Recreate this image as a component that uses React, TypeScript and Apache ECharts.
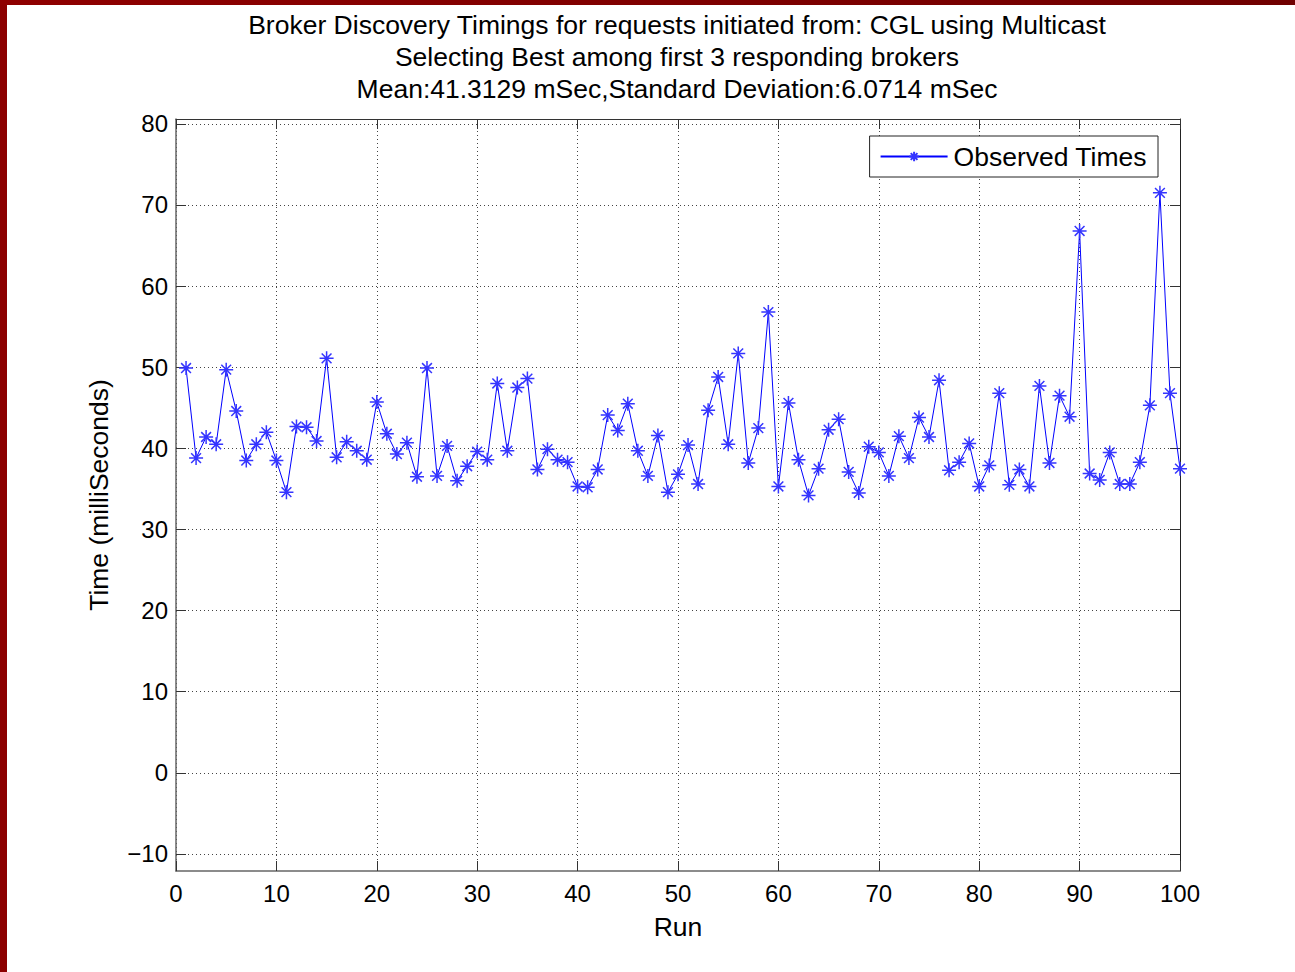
import React, { useEffect, useRef } from "react";
import * as echarts from "echarts";

const titleLines = [
  "Broker Discovery Timings for requests initiated from: CGL using Multicast",
  "Selecting Best among first 3 responding brokers",
  "Mean:41.3129 mSec,Standard Deviation:6.0714 mSec",
];
const seriesName = "Observed Times";
const xAxisName = "Run";
const yAxisName = "Time (milliSeconds)";
const yTicks = [-10, 0, 10, 20, 30, 40, 50, 60, 70, 80];
const observedTimes = [
  49.9, 38.8, 41.4, 40.5, 49.7, 44.6, 38.5, 40.5, 42.0, 38.5,
  34.6, 42.7, 42.6, 40.9, 51.1, 38.9, 40.8, 39.7, 38.6, 45.7,
  41.8, 39.3, 40.7, 36.5, 49.9, 36.6, 40.3, 36.0, 37.8, 39.6,
  38.6, 48.0, 39.7, 47.5, 48.6, 37.4, 39.9, 38.6, 38.3, 35.3,
  35.2, 37.4, 44.1, 42.2, 45.5, 39.7, 36.6, 41.6, 34.6, 36.8,
  40.4, 35.6, 44.7, 48.8, 40.5, 51.7, 38.2, 42.5, 56.8, 35.3,
  45.6, 38.6, 34.2, 37.5, 42.3, 43.6, 37.1, 34.5, 40.2, 39.5,
  36.6, 41.5, 38.8, 43.8, 41.4, 48.4, 37.3, 38.3, 40.6, 35.3,
  37.9, 46.8, 35.5, 37.4, 35.3, 47.7, 38.2, 46.5, 43.9, 66.8,
  36.9, 36.1, 39.5, 35.6, 35.6, 38.3, 45.3, 71.5, 46.8, 37.5,
];

const FONT = "'Liberation Sans', Arial, Helvetica, sans-serif";
const BIG = 26.5;
const STAR = "path://M0,-10L0,10M-10,0L10,0M-7,-7L7,7M-7,7L7,-7";

export default function App() {
  const ref = useRef<HTMLDivElement>(null);
  useEffect(() => {
    if (!ref.current) return;
    const chart = echarts.init(ref.current, null, { renderer: "svg" });
    const data = observedTimes.map((v, i) => [i + 1, v]);
    const gridLine = { show: true, lineStyle: { color: "#444", type: [1, 3] as any, width: 1 } };
    const tickStyle = { show: true, inside: true, length: 10, lineStyle: { color: "#333", width: 1 } };
    chart.setOption({
      animation: false,
      backgroundColor: "#ffffff",
      textStyle: { fontFamily: FONT },
      graphic: [
        { type: "rect", left: 0, top: 0, shape: { width: 7, height: 972 }, style: { fill: "#8c0000" }, z: 100 },
        {
          type: "rect", left: 0, top: 0, shape: { width: 1295, height: 5 },
          style: {
            fill: new echarts.graphic.LinearGradient(0, 0, 1, 0, [
              { offset: 0, color: "#8f0000" },
              { offset: 1, color: "#700000" },
            ]),
          },
          z: 100,
        },
      ],
      title: {
        text: titleLines.join("\n"),
        left: 677,
        top: 9,
        textAlign: "center",
        padding: 0,
        textStyle: { fontFamily: FONT, fontSize: BIG, fontWeight: "normal", color: "#000", lineHeight: 32 },
      },
      legend: {
        data: [seriesName],
        right: 137,
        top: 136,
        orient: "vertical",
        backgroundColor: "#fff",
        borderColor: "#222",
        borderWidth: 1,
        borderRadius: 0,
        padding: [7, 11, 7, 10],
        itemWidth: 67,
        itemHeight: 12,
        textStyle: { fontFamily: FONT, fontSize: BIG, color: "#000", padding: [0, 0, 0, 1] },
      },
      grid: { left: 176, top: 119, right: 115, bottom: 101, containLabel: false },
      xAxis: [
        {
          type: "value", min: 0, max: 100, interval: 10,
          name: xAxisName, nameLocation: "middle", nameGap: 42,
          nameTextStyle: { fontFamily: FONT, fontSize: BIG, color: "#000" },
          axisLine: { show: true, onZero: false, lineStyle: { color: "#666", width: 1.5 } },
          axisTick: tickStyle,
          axisLabel: { margin: 10, fontFamily: FONT, fontSize: 24, color: "#000" },
          splitLine: gridLine,
        },
        {
          type: "value", min: 0, max: 100, interval: 10, position: "top",
          axisLine: { show: true, onZero: false, lineStyle: { color: "#333", width: 1 } },
          axisTick: tickStyle,
          axisLabel: { show: false },
          splitLine: { show: false },
        },
      ],
      yAxis: [
        {
          type: "value", min: -12.1, max: 80.6,
          name: yAxisName, nameLocation: "middle", nameGap: 64,
          nameTextStyle: { fontFamily: FONT, fontSize: BIG, color: "#000" },
          axisLine: { show: true, onZero: false, lineStyle: { color: "#666", width: 1.5 } },
          axisTick: { ...tickStyle, customValues: yTicks },
          axisLabel: {
            margin: 8, fontFamily: FONT, fontSize: 24, color: "#000", customValues: yTicks,
            formatter: (v: number) => (v < 0 ? "\u2212" + Math.abs(v) : String(v)),
          },
          splitLine: gridLine,
        },
        {
          type: "value", min: -12.1, max: 80.6, position: "right",
          axisLine: { show: true, onZero: false, lineStyle: { color: "#222", width: 1 } },
          axisTick: { ...tickStyle, customValues: yTicks },
          axisLabel: { show: false, customValues: yTicks },
          splitLine: { show: false },
        },
      ],
      series: [
        {
          name: seriesName,
          type: "line",
          data,
          xAxisIndex: 0,
          yAxisIndex: 0,
          symbol: STAR,
          symbolSize: 14,
          showAllSymbol: true,
          lineStyle: { color: "#0000ff", width: 1 },
          itemStyle: { color: "rgba(0,0,0,0)", borderColor: "#3535ff", borderWidth: 1.5 },
          emphasis: { disabled: true },
        },
      ],
    });
    return () => chart.dispose();
  }, []);
  return (
    <div
      ref={ref}
      style={{ position: "fixed", left: 0, top: 0, width: 1295, height: 972, background: "#fff" }}
    />
  );
}
